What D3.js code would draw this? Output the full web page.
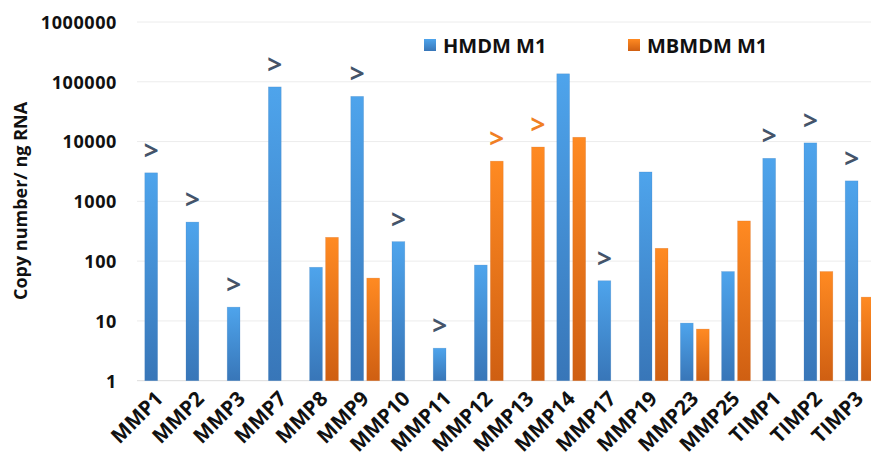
<!DOCTYPE html>
<html>
<head>
<meta charset="utf-8">
<script src="https://cdn.jsdelivr.net/npm/d3@7"></script>
<style>
  body { margin: 0; background: #fff; }
  text { font-family: "Open Sans", "Liberation Sans", sans-serif; font-weight: 700; }
</style>
</head>
<body>
<div id="chart"></div>
<script>
// data
const genes = ["MMP1", "MMP2", "MMP3", "MMP7", "MMP8", "MMP9", "MMP10", "MMP11", "MMP12",
  "MMP13", "MMP14", "MMP17", "MMP19", "MMP23", "MMP25", "TIMP1", "TIMP2", "TIMP3"];
const hmdm = [3000, 450, 17, 82000, 79, 57000, 212, 3.5, 86,
  null, 136000, 47, 3100, 9.2, 67, 5250, 9500, 2200];
const mbmdm = [null, null, null, null, 250, 52, null, null, 4700,
  8100, 11800, null, 164, 7.3, 470, null, 67, 25];
// ">" flags: which series gets a marker above its bar
const hmdmMore = ["MMP1", "MMP2", "MMP3", "MMP7", "MMP9", "MMP10", "MMP11", "MMP17", "TIMP1", "TIMP2", "TIMP3"];
const mbmdmMore = ["MMP12", "MMP13"];
const yTicks = [1, 10, 100, 1000, 10000, 100000, 1000000];
const seriesNames = ["HMDM M1", "MBMDM M1"];

const width = 871, height = 463;

const svg = d3.select("#chart").append("svg")
  .attr("width", width)
  .attr("height", height);

const defs = svg.append("defs");
function grad(id, top, bottom) {
  const g = defs.append("linearGradient").attr("id", id)
    .attr("x1", "0%").attr("x2", "0%").attr("y1", "0%").attr("y2", "100%");
  g.append("stop").attr("offset", "0%").attr("stop-color", top);
  g.append("stop").attr("offset", "100%").attr("stop-color", bottom);
}
grad("gBlue", "#4ea4ec", "#3876b8");
grad("gOrange", "#ff8a22", "#cf5f12");

const x = d3.scaleBand().domain(genes).range([138.6, 880.2]);
const y = d3.scaleLog().domain([1, 1000000]).range([380.7, 22]);

// gridlines
svg.append("g").selectAll("line")
  .data(yTicks)
  .enter().append("line")
  .attr("x1", 137).attr("x2", width)
  .attr("y1", d => y(d)).attr("y2", d => y(d))
  .attr("stroke", d => d === 1 ? "#dcdcdc" : "#ececec")
  .attr("stroke-width", 1);

// y axis labels
const yAxis = svg.append("g")
  .attr("transform", "translate(117,0)")
  .call(d3.axisLeft(y).tickValues(yTicks).tickFormat(d3.format("d")).tickSize(0).tickPadding(0));
yAxis.select(".domain").remove();
yAxis.selectAll("text")
  .attr("font-size", "18px")
  .attr("font-family", "'Open Sans', sans-serif")
  .attr("font-weight", 700)
  .attr("letter-spacing", "0.6px")
  .attr("fill", "#111")
  .attr("dy", "0.35em");

svg.append("text")
  .attr("transform", "translate(27,201) rotate(-90)")
  .attr("text-anchor", "middle")
  .attr("font-size", "18px")
  .attr("fill", "#111")
  .text("Copy number/ ng RNA");

// bars
const barW = 12.8;
const off = [-8, 8];
[hmdm, mbmdm].forEach((vals, s) => {
  svg.append("g").selectAll("rect")
    .data(genes.map((g, i) => ({ g: g, v: vals[i] })).filter(d => d.v != null))
    .enter().append("rect")
    .attr("x", d => x(d.g) + x.bandwidth() / 2 + off[s] - barW / 2)
    .attr("y", d => y(d.v))
    .attr("width", barW)
    .attr("height", d => y(1) - y(d.v))
    .attr("fill", s === 0 ? "url(#gBlue)" : "url(#gOrange)")
    .attr("stroke", s === 0 ? "#3a78b6" : "#c85e14")
    .attr("stroke-opacity", 0.35)
    .attr("stroke-width", 0.6);
});

// ">" markers
[[hmdmMore, hmdm, 0, "#44546a"], [mbmdmMore, mbmdm, 1, "#f07f24"]].forEach(([list, vals, s, col]) => {
  svg.append("g").selectAll("text")
    .data(list)
    .enter().append("text")
    .attr("x", d => x(d) + x.bandwidth() / 2 + off[s])
    .attr("y", d => y(vals[genes.indexOf(d)]) - 13)
    .attr("text-anchor", "middle")
    .attr("font-size", "26px")
    .attr("fill", col)
    .text(">");
});

// x labels: group moved to the tick, text rotated inside it
const xLab = svg.append("g").selectAll("g")
  .data(genes)
  .enter().append("g")
  .attr("transform", d => "translate(" + (x(d) + x.bandwidth() / 2 + 5) + ",400)");
xLab.append("text")
  .attr("text-anchor", "end")
  .attr("font-size", "20.5px")
  .attr("fill", "#111")
  .attr("transform", "rotate(-45)")
  .text(d => d);

// legend
const legX = [424, 628];
const legend = svg.append("g");
seriesNames.forEach((n, i) => {
  legend.append("rect")
    .attr("x", legX[i]).attr("y", 39)
    .attr("width", 12).attr("height", 12)
    .attr("fill", i === 0 ? "url(#gBlue)" : "url(#gOrange)");
  legend.append("text")
    .attr("x", legX[i] + 19).attr("y", 52.5)
    .attr("font-size", "20px")
    .attr("fill", "#111")
    .text(n);
});
</script>
</body>
</html>
